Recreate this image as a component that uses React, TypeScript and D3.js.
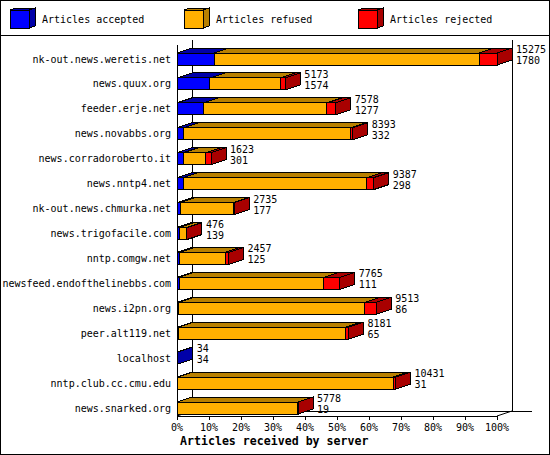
import React from "react";
import * as d3 from "d3";

const servers = [
  "nk-out.news.weretis.net",
  "news.quux.org",
  "feeder.erje.net",
  "news.novabbs.org",
  "news.corradoroberto.it",
  "news.nntp4.net",
  "nk-out.news.chmurka.net",
  "news.trigofacile.com",
  "nntp.comgw.net",
  "newsfeed.endofthelinebbs.com",
  "news.i2pn.org",
  "peer.alt119.net",
  "localhost",
  "nntp.club.cc.cmu.edu",
  "news.snarked.org",
];
const totals = [15275, 5173, 7578, 8393, 1623, 9387, 2735, 476, 2457, 7765, 9513, 8181, 34, 10431, 5778];
const accepted = [1780, 1574, 1277, 332, 301, 298, 177, 139, 125, 111, 86, 65, 34, 31, 19];
const rejected = [850, 250, 420, 100, 240, 330, 30, 40, 160, 750, 540, 120, 0, 120, 10];
const tickPercents = [0, 10, 20, 30, 40, 50, 60, 70, 80, 90, 100];
const seriesNames = ["Articles accepted", "Articles refused", "Articles rejected"];
const xTitle = "Articles received by server";

const colors = ["#0000ff", "#ffb000", "#ff0000"];
const darkColors = ["#0000a8", "#b88000", "#a80000"];

const W = 550;
const H = 455;
const X0 = 177;
const X1 = 497;
const DX = 15;
const DY = 5;
const BAR_H = 12;
const FONT = "'DejaVu Sans Mono', 'Liberation Mono', monospace";

export default function App() {
  const maxTotal = d3.max(totals) as number;
  const x = d3.scaleLinear().domain([0, maxTotal]).range([X0, X1]);
  const xp = d3.scaleLinear().domain([0, 100]).range([X0, X1]);
  const y = d3.scalePoint<string>().domain(servers).range([59, 408]);
  const floorY = 416;
  const topY = 40;

  const bars = servers.map((s, i) => {
    const refused = totals[i] - accepted[i] - rejected[i];
    const vals = [accepted[i], refused, rejected[i]];
    const yc = y(s) as number;
    const top = yc - BAR_H / 2;
    const bot = yc + BAR_H / 2;
    let cum = 0;
    const segs: { x0: number; x1: number; k: number }[] = [];
    vals.forEach((v, k) => {
      if (v > 0) {
        segs.push({ x0: x(cum), x1: x(cum + v), k });
      }
      cum += v;
    });
    const last = segs[segs.length - 1];
    const xe = x(totals[i]);
    return (
      <g key={s}>
        {segs.map((sg) => (
          <rect
            key={"f" + sg.k}
            x={sg.x0}
            y={top}
            width={Math.max(sg.x1 - sg.x0, 0.5)}
            height={BAR_H}
            fill={colors[sg.k]}
            stroke="#000"
            strokeWidth={1}
          />
        ))}
        {segs.map((sg) => (
          <path
            key={"t" + sg.k}
            d={`M${sg.x0},${top}L${sg.x0 + DX},${top - DY}L${sg.x1 + DX},${top - DY}L${sg.x1},${top}Z`}
            fill={darkColors[sg.k]}
            stroke="#000"
            strokeWidth={1}
          />
        ))}
        <path
          d={`M${xe},${top}L${xe + DX},${top - DY}L${xe + DX},${bot - DY}L${xe},${bot}Z`}
          fill={darkColors[last.k]}
          stroke="#000"
          strokeWidth={1}
        />
        <text x={xe + DX + 4} y={yc - 9.5} dominantBaseline="central" fontSize={10} fontFamily={FONT}>
          {totals[i]}
        </text>
        <text x={xe + DX + 4} y={yc + 1.5} dominantBaseline="central" fontSize={10} fontFamily={FONT}>
          {accepted[i]}
        </text>
        <text x={171} y={yc} dominantBaseline="central" textAnchor="end" fontSize={10} fontFamily={FONT}>
          {s}
        </text>
      </g>
    );
  });

  const legendX = [10, 184, 358];

  return (
    <svg
      width={W}
      height={H}
      style={{ position: "absolute", left: 0, top: 0, background: "#fff" }}
      shapeRendering="crispEdges"
    >
      <rect x={0.5} y={0.5} width={W - 1} height={H - 1} fill="#fff" stroke="#000" />
      <line x1={0} x2={W} y1={35.5} y2={35.5} stroke="#000" />
      {seriesNames.map((n, k) => {
        const lx = legendX[k];
        return (
          <g key={n}>
            <path
              d={`M${lx},10L${lx + 6},8L${lx + 25},8L${lx + 19},10Z`}
              fill={darkColors[k]}
              stroke="#000"
            />
            <path
              d={`M${lx + 19},10L${lx + 25},8L${lx + 25},26L${lx + 19},28Z`}
              fill={darkColors[k]}
              stroke="#000"
            />
            <rect x={lx} y={10} width={19} height={18} fill={colors[k]} stroke="#000" />
            <text x={lx + 32} y={19} dominantBaseline="central" fontSize={10} fontFamily={FONT}>
              {n}
            </text>
          </g>
        );
      })}
      {/* walls */}
      <line x1={X0 + DX + 0.5} x2={X0 + DX + 0.5} y1={topY} y2={floorY - DY} stroke="#000" />
      <line x1={X1 + DX + 0.5} x2={X1 + DX + 0.5} y1={topY} y2={floorY - DY} stroke="#000" />
      <line x1={X0 + 0.5} x2={X0 + 0.5} y1={topY + DY} y2={floorY} stroke="#000" />
      <line x1={X0 + DX} x2={532} y1={floorY - DY + 0.5} y2={floorY - DY + 0.5} stroke="#000" />
      <line x1={X0} x2={X1} y1={floorY + 0.5} y2={floorY + 0.5} stroke="#000" />
      <line x1={X0} x2={X0 + DX} y1={floorY} y2={floorY - DY} stroke="#000" shapeRendering="auto" />
      <line x1={X1} x2={X1 + DX} y1={floorY} y2={floorY - DY} stroke="#000" shapeRendering="auto" />
      {bars}
      {tickPercents.map((p) => (
        <g key={p}>
          <line x1={xp(p) + 0.5} x2={xp(p) + 0.5} y1={floorY} y2={floorY + 4} stroke="#000" />
          <text x={xp(p)} y={427} textAnchor="middle" dominantBaseline="central" fontSize={10} fontFamily={FONT}>
            {p + "%"}
          </text>
        </g>
      ))}
      <text x={180} y={441} dominantBaseline="central" fontSize={11.6} fontWeight="bold" fontFamily={FONT}>
        {xTitle}
      </text>
    </svg>
  );
}
